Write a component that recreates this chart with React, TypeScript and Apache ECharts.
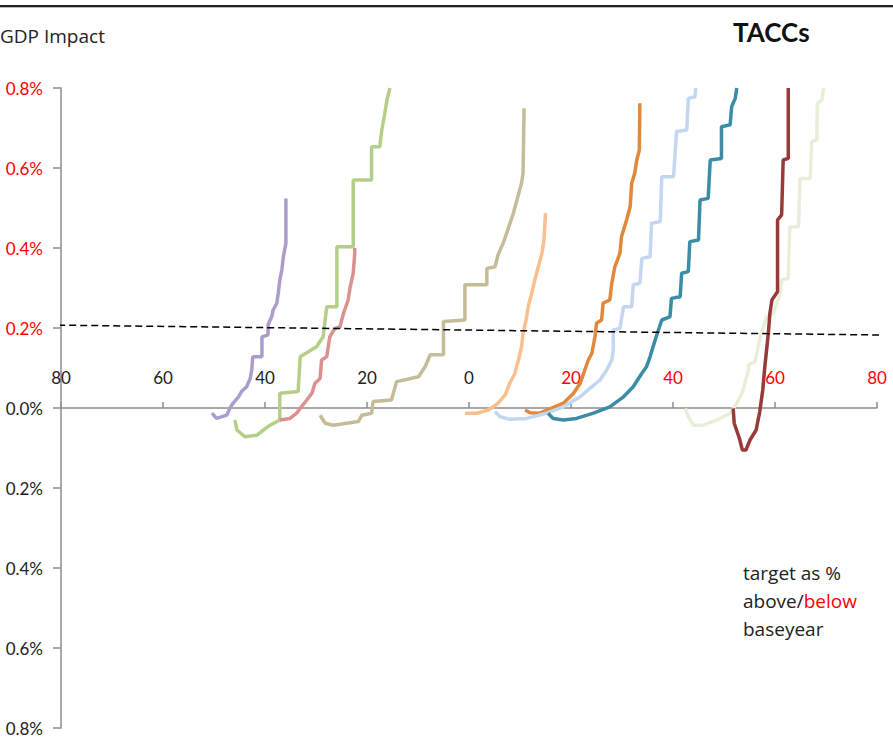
import React, { useEffect, useRef } from 'react';
import * as echarts from 'echarts';

// x: target as % above (+) / below (-) base year ; y: GDP impact in % (negative = loss, drawn upward)
const xTicks = [-80, -60, -40, -20, 0, 20, 40, 60, 80];
const yTicks = [-0.8, -0.6, -0.4, -0.2, 0, 0.2, 0.4, 0.6, 0.8];

const purple = [[50.4,0.013],[49.5,0.026],[47.5,0.018],[46.9,0.001],[46.2,-0.013],[45.2,-0.028],[44.6,-0.041],[43.6,-0.053],[42.9,-0.074],[42.6,-0.095],[42.4,-0.128],[40.6,-0.128],[40.6,-0.178],[39.4,-0.183],[39.4,-0.208],[38.7,-0.228],[38.4,-0.245],[37.7,-0.262],[37.4,-0.287],[37.1,-0.32],[36.7,-0.345],[36.4,-0.378],[35.9,-0.412],[35.9,-0.524]];
const green = [[45.9,0.03],[45.5,0.055],[43.9,0.072],[41.6,0.068],[40.3,0.055],[39.0,0.043],[37.1,0.03],[37.1,-0.037],[33.5,-0.041],[33.1,-0.128],[29.9,-0.153],[28.6,-0.178],[27.9,-0.253],[25.9,-0.253],[25.9,-0.403],[22.7,-0.403],[22.7,-0.57],[19.1,-0.57],[19.1,-0.653],[17.5,-0.653],[17.1,-0.695],[16.5,-0.737],[16.1,-0.77],[15.5,-0.8]];
const salmon = [[37.1,0.03],[35.1,0.026],[33.8,0.013],[33.1,0.001],[31.8,-0.02],[30.8,-0.037],[30.2,-0.062],[29.2,-0.074],[28.9,-0.12],[27.9,-0.128],[27.3,-0.178],[26.3,-0.199],[25.3,-0.203],[24.6,-0.237],[23.7,-0.27],[23.3,-0.303],[22.7,-0.337],[22.4,-0.387],[22.4,-0.4]];
const tan = [[29.2,0.018],[28.2,0.038],[26.6,0.043],[24.0,0.038],[21.7,0.034],[21.0,0.018],[19.1,0.013],[18.8,-0.016],[15.2,-0.02],[14.2,-0.066],[9.9,-0.078],[8.6,-0.103],[7.6,-0.133],[5.0,-0.133],[5.0,-0.216],[0.8,-0.22],[0.8,-0.308],[-3.5,-0.308],[-3.5,-0.349],[-5.1,-0.353],[-5.7,-0.383],[-6.7,-0.412],[-7.7,-0.449],[-8.7,-0.487],[-9.4,-0.52],[-10.3,-0.562],[-10.6,-0.587],[-10.8,-0.749]];
const lightOrange = [[0.8,0.013],[-1.5,0.013],[-3.8,0.005],[-5.7,-0.012],[-7.1,-0.033],[-8.0,-0.062],[-9.0,-0.087],[-9.7,-0.12],[-10.3,-0.153],[-10.6,-0.187],[-11.2,-0.22],[-11.6,-0.253],[-12.3,-0.287],[-12.9,-0.32],[-13.6,-0.353],[-14.3,-0.387],[-14.7,-0.42],[-15.0,-0.487]];
const orange = [[-11.0,0.005],[-12.0,0.012],[-13.9,0.013],[-18.5,-0.012],[-20.5,-0.037],[-21.8,-0.062],[-22.7,-0.095],[-23.4,-0.12],[-24.1,-0.137],[-24.7,-0.178],[-25.0,-0.212],[-26.0,-0.22],[-26.3,-0.262],[-27.6,-0.27],[-28.0,-0.312],[-28.6,-0.353],[-29.6,-0.387],[-29.9,-0.428],[-30.9,-0.47],[-31.6,-0.503],[-31.9,-0.562],[-32.5,-0.587],[-32.9,-0.62],[-33.4,-0.645],[-33.5,-0.762]];
const lightBlue = [[-5.1,0.009],[-6.1,0.022],[-8.0,0.028],[-11.3,0.026],[-15.2,0.013],[-18.5,-0.003],[-21.8,-0.028],[-23.7,-0.049],[-25.7,-0.07],[-27.0,-0.095],[-28.0,-0.12],[-28.3,-0.145],[-28.3,-0.195],[-29.6,-0.199],[-30.3,-0.253],[-31.9,-0.253],[-32.2,-0.308],[-33.5,-0.312],[-33.9,-0.374],[-35.5,-0.378],[-35.8,-0.462],[-37.5,-0.466],[-37.8,-0.578],[-40.1,-0.578],[-40.7,-0.691],[-42.7,-0.695],[-43.0,-0.774],[-44.3,-0.778],[-44.5,-0.8]];
const teal = [[-15.5,0.013],[-16.5,0.026],[-18.5,0.03],[-21.1,0.026],[-24.4,0.013],[-27.6,-0.003],[-30.3,-0.028],[-32.2,-0.053],[-33.9,-0.087],[-34.8,-0.103],[-35.5,-0.128],[-36.5,-0.17],[-37.8,-0.22],[-39.4,-0.228],[-39.7,-0.274],[-41.4,-0.278],[-41.7,-0.337],[-43.0,-0.341],[-43.3,-0.416],[-45.0,-0.42],[-45.3,-0.52],[-46.9,-0.524],[-47.3,-0.62],[-49.5,-0.624],[-49.5,-0.703],[-51.2,-0.708],[-51.5,-0.753],[-52.2,-0.774],[-52.5,-0.8]];
const paleGreen = [[-42.4,0.001],[-43.0,0.022],[-44.0,0.043],[-45.9,0.043],[-48.6,0.03],[-51.2,0.013],[-52.5,-0.012],[-53.5,-0.037],[-54.1,-0.062],[-54.8,-0.095],[-54.8,-0.108],[-56.1,-0.116],[-57.1,-0.178],[-58.4,-0.228],[-59.7,-0.237],[-61.0,-0.287],[-61.3,-0.32],[-62.6,-0.324],[-62.9,-0.453],[-64.6,-0.453],[-64.9,-0.574],[-66.9,-0.574],[-67.2,-0.666],[-68.2,-0.67],[-68.3,-0.762],[-69.2,-0.77],[-69.5,-0.8]];
const darkRed = [[-51.8,0.001],[-52.0,0.038],[-53.0,0.075],[-53.6,0.105],[-54.3,0.105],[-55.1,0.08],[-56.3,0.055],[-57.0,0.01],[-57.6,-0.045],[-58.0,-0.103],[-58.7,-0.187],[-59.0,-0.237],[-59.4,-0.27],[-60.5,-0.291],[-60.5,-0.47],[-61.3,-0.483],[-61.6,-0.62],[-62.6,-0.624],[-62.6,-0.8]];
const thresholdLine = [[82.7,-0.2075],[-80.6,-0.1825]];

const curves = [
  { name: 'A', data: purple, color: '#AB9CCB' },
  { name: 'B', data: green, color: '#B4CF88' },
  { name: 'C', data: salmon, color: '#DA9190' },
  { name: 'D', data: tan, color: '#C4BD97' },
  { name: 'E', data: lightOrange, color: '#FABF8F' },
  { name: 'F', data: orange, color: '#E0883C' },
  { name: 'G', data: lightBlue, color: '#C3D7F0' },
  { name: 'H', data: teal, color: '#3A8DA4' },
  { name: 'I', data: paleGreen, color: '#E8EFD9' },
  { name: 'J', data: darkRed, color: '#963B39' },
];

const FONT = 'Lato, "Open Sans", sans-serif';
const FONT2 = '"Open Sans", Lato, sans-serif';
const RED = '#FF0000';
const INK = '#222222';
const AXIS = '#8c8c8c';

export default function App() {
  const ref = useRef<HTMLDivElement>(null);
  useEffect(() => {
    const chart = echarts.init(ref.current!, null, { renderer: 'svg' });
    const labelRich = {
      b: { color: INK, fontSize: 17, fontFamily: FONT },
      r: { color: RED, fontSize: 17, fontFamily: FONT },
    };
    const xBase = {
      type: 'value', min: xTicks[0], max: xTicks[xTicks.length - 1], interval: 20, inverse: true,
      splitLine: { show: false },
    };
    chart.setOption({
      animation: false,
      backgroundColor: '#ffffff',
      textStyle: { fontFamily: FONT },
      title: [
        { text: 'GDP Impact', left: 0, top: 26, padding: 0, textStyle: { fontSize: 19, fontWeight: 'normal', color: INK, fontFamily: FONT2 } },
        { text: 'TACCs', left: 733, top: 19, padding: 0, textStyle: { fontSize: 26, fontWeight: 'bold', color: '#111', fontFamily: FONT } },
        {
          text: 'target as %\n{k|above/}{r|below}\nbaseyear', left: 743, top: 559, padding: 0,
          textStyle: {
            fontSize: 19, fontWeight: 'normal', color: INK, lineHeight: 28, fontFamily: FONT2,
            rich: {
              k: { fontSize: 19, color: INK, lineHeight: 28, fontFamily: FONT2 },
              r: { fontSize: 19, color: RED, lineHeight: 28, fontFamily: FONT2 },
            },
          },
        },
      ],
      graphic: [
        { type: 'rect', left: 0, top: 5, shape: { width: 893, height: 2 }, style: { fill: '#222' } },
        { type: 'rect', left: 0, top: 7, shape: { width: 893, height: 1 }, style: { fill: '#bbb' } },
      ],
      grid: [
        { left: 61, right: 16, top: 88, bottom: 24, containLabel: false },
        // helper grid whose top edge sits on y = 0 of the main grid: carries the x axis line, ticks and labels
        { left: 61, right: 16, top: 408, height: 100, containLabel: false },
      ],
      xAxis: [
        { ...xBase, gridIndex: 0, show: false },
        {
          ...xBase, gridIndex: 1, position: 'top',
          axisLine: { show: true, onZero: false, lineStyle: { color: AXIS, width: 1.5 } },
          axisTick: { show: true, length: 6, lineStyle: { color: AXIS, width: 1.5 } },
          axisLabel: {
            margin: 22, showMinLabel: true, showMaxLabel: true,
            formatter: (v: number) => (v < -1e-9 ? '{r|' : '{b|') + String(Math.abs(Math.round(v))) + '}',
            rich: labelRich,
          },
        },
      ],
      yAxis: [
        {
          type: 'value', gridIndex: 0, min: yTicks[0], max: yTicks[yTicks.length - 1], interval: 0.2, inverse: true,
          axisLine: { show: true, onZero: false, lineStyle: { color: AXIS, width: 1.5 } },
          axisTick: { show: true, length: 8, lineStyle: { color: AXIS, width: 1.5 } },
          splitLine: { show: false },
          axisLabel: {
            margin: 18, showMinLabel: true, showMaxLabel: true,
            formatter: (v: number) => (v < -1e-9 ? '{r|' : '{b|') + Math.abs(v).toFixed(1) + '%}',
            rich: labelRich,
          },
        },
        { type: 'value', gridIndex: 1, show: false, min: 0, max: 1 },
      ],
      series: [
        ...curves.map((c) => ({
          name: c.name, type: 'line', data: c.data, showSymbol: false, symbol: 'none',
          xAxisIndex: 0, yAxisIndex: 0,
          lineStyle: { color: c.color, width: 3.5 }, itemStyle: { color: c.color }, z: 2,
        })),
        {
          name: 'threshold', type: 'line', data: thresholdLine, showSymbol: false, symbol: 'none', clip: false,
          xAxisIndex: 0, yAxisIndex: 0,
          lineStyle: { color: '#000', width: 1.5, type: [7, 4] }, z: 5,
        },
      ],
    });
    return () => chart.dispose();
  }, []);
  return <div ref={ref} style={{ position: 'absolute', left: 0, top: 0, width: 893, height: 752 }} />;
}
